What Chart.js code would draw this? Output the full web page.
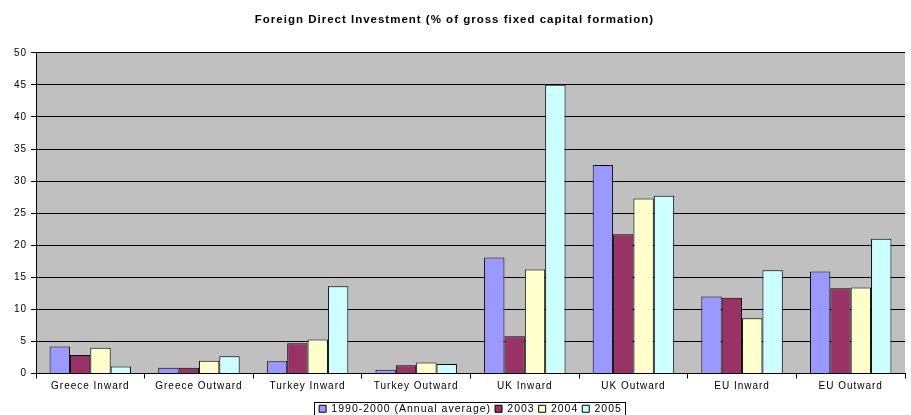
<!DOCTYPE html>
<html>
<head>
<meta charset="utf-8">
<script src="https://cdn.jsdelivr.net/npm/chart.js@4/dist/chart.umd.min.js"></script>
<style>
html,body{margin:0;padding:0;background:#fff;}
#wrap{width:911px;height:415px;position:relative;}
</style>
</head>
<body>
<div id="wrap"><canvas id="c" width="911" height="415"></canvas></div>
<script>
const categories = ["Greece Inward","Greece Outward","Turkey Inward","Turkey Outward","UK Inward","UK Outward","EU Inward","EU Outward"];
const seriesNames = ["1990-2000 (Annual average)","2003","2004","2005"];
const avg1990_2000 = [4.2, 0.9, 1.9, 0.6, 18.1, 32.5, 12.0, 15.9];
const y2003 = [2.9, 0.9, 4.7, 1.3, 5.8, 21.7, 11.8, 13.3];
const y2004 = [4.0, 2.0, 5.3, 1.7, 16.2, 27.3, 8.6, 13.4];
const y2005 = [1.1, 2.7, 13.6, 1.5, 45.0, 27.7, 16.1, 21.0];
const yTicks = [0,5,10,15,20,25,30,35,40,45,50];
const colors = ["#9999FF","#993366","#FFFFCC","#CCFFFF"];

const FONT = "'Liberation Sans', Arial, sans-serif";
Chart.defaults.font.family = FONT;
Chart.defaults.color = "#000";

const bgPlugin = {
  id: 'bg',
  beforeUpdate(chart){
    chart.ctx.letterSpacing = '1px';
  },
  beforeDraw(chart){
    const {ctx, chartArea:a} = chart;
    ctx.letterSpacing = '1px';
    ctx.save();
    ctx.fillStyle = '#C0C0C0';
    ctx.fillRect(a.left, a.top, a.right-a.left, a.bottom-a.top);
    ctx.restore();
  },
  afterDraw(chart){
    const lg = chart.legend;
    if(!lg || !lg.legendHitBoxes || !lg.legendHitBoxes.length) return;
    let l=Infinity, r=-Infinity, t=Infinity, b=-Infinity;
    lg.legendHitBoxes.forEach(h=>{l=Math.min(l,h.left);r=Math.max(r,h.left+h.width);t=Math.min(t,h.top);b=Math.max(b,h.top+h.height);});
    const ctx = chart.ctx;
    ctx.save();
    ctx.strokeStyle='#000';
    ctx.lineWidth=1;
    ctx.strokeRect(Math.round(l-5)+0.5, Math.round(t-2)+0.5, Math.round(r-l+8), Math.round(b-t+4));
    ctx.restore();
  }
};

const datasets = [avg1990_2000, y2003, y2004, y2005].map((d,i)=>({
  label: seriesNames[i],
  data: d,
  backgroundColor: colors[i],
  borderColor: '#000',
  borderWidth: 1,
  categoryPercentage: 0.75,
  barPercentage: 1.0
}));

new Chart(document.getElementById('c'), {
  type: 'bar',
  data: { labels: categories, datasets },
  options: {
    responsive: false,
    animation: false,
    layout: { padding: { left: 4, right: 6, top: 0, bottom: -9 } },
    plugins: {
      title: {
        display: true,
        text: 'Foreign Direct Investment (% of gross fixed capital formation)',
        font: { size: 11.5, weight: 'bold', family: FONT },
        color: '#000',
        padding: { top: 13, bottom: 26 }
      },
      legend: {
        position: 'bottom',
        fullSize: false,
        labels: {
          boxWidth: 7, boxHeight: 7,
          font: { size: 10.5, family: FONT },
          color: '#000',
          padding: 4
        }
      },
      tooltip: { enabled: false }
    },
    scales: {
      x: {
        afterFit(scale){ scale.height += 5; },
        grid: { display: true, offset: true, drawOnChartArea: false, drawTicks: true, tickLength: 5, color: '#000' },
        border: { color: '#000' },
        ticks: { font: { size: 10, family: FONT }, color: '#000', maxRotation: 0, padding: 2 }
      },
      y: {
        min: 0, max: 50,
        afterBuildTicks(scale){ scale.ticks = yTicks.map(v=>({value:v})); },
        afterFit(scale){ scale.width = 32; },
        grid: { color: '#000', tickLength: 5 },
        border: { color: '#000' },
        ticks: { font: { size: 10, family: FONT }, color: '#000', padding: 4 }
      }
    }
  },
  plugins: [bgPlugin]
});
</script>
</body>
</html>
